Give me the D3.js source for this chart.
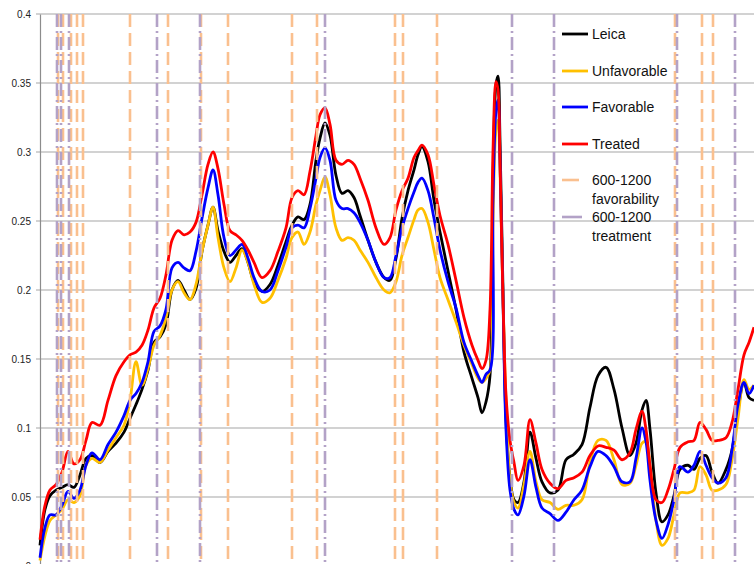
<!DOCTYPE html>
<html>
<head>
<meta charset="utf-8">
<script src="https://cdn.jsdelivr.net/npm/d3@7"></script>
<style>
  body { margin: 0; background: #fff; }
  svg { display: block; font-family: "Liberation Sans", Arial, sans-serif; }
</style>
</head>
<body>
<svg id="chart" width="754" height="564"></svg>
<script>
// wavelength (nm) shared by all four spectra
var wavelength = [600, 602.5, 605, 608, 611, 614, 617, 620, 623, 626, 630, 634, 638, 642, 645, 648, 651, 654, 657, 660,
  663, 666, 669, 672, 675, 678, 681, 684, 686.5, 689, 692, 695, 698, 701, 704, 707, 711, 715, 719, 723,
  726, 729, 732, 735, 738, 740, 742.5, 745, 748, 751, 754, 757, 760, 764, 768, 772, 775, 778, 781, 784,
  787, 789, 791, 794, 797, 800, 804, 808, 812, 816, 819, 821, 823, 825, 826.5, 828, 829, 830, 831.5, 833,
  835, 837, 839, 842, 845, 848, 851, 855, 859, 863, 867, 871, 875, 879, 883, 887, 891, 895, 898, 901,
  903, 905, 908, 911, 914, 917, 920, 924, 927, 930, 933, 936, 939, 943, 946, 949, 952, 954.5, 957];

var leica = [0.015, 0.041, 0.051, 0.055, 0.057, 0.059, 0.057, 0.066, 0.078, 0.080, 0.075, 0.083, 0.089, 0.097, 0.107, 0.117, 0.128, 0.142, 0.162, 0.166,
  0.175, 0.200, 0.207, 0.200, 0.193, 0.201, 0.228, 0.247, 0.260, 0.243, 0.228, 0.220, 0.225, 0.230, 0.220, 0.206, 0.199, 0.204, 0.218, 0.235,
  0.247, 0.253, 0.251, 0.262, 0.294, 0.310, 0.321, 0.312, 0.283, 0.270, 0.272, 0.267, 0.254, 0.236, 0.220, 0.209, 0.207, 0.223, 0.252, 0.272,
  0.287, 0.298, 0.304, 0.293, 0.265, 0.242, 0.214, 0.186, 0.155, 0.136, 0.122, 0.111, 0.119, 0.138, 0.280, 0.349, 0.355, 0.309, 0.200, 0.106,
  0.064, 0.048, 0.046, 0.061, 0.097, 0.078, 0.061, 0.053, 0.055, 0.077, 0.081, 0.088, 0.115, 0.138, 0.144, 0.128, 0.100, 0.080, 0.089, 0.113,
  0.120, 0.099, 0.053, 0.032, 0.037, 0.051, 0.070, 0.073, 0.070, 0.078, 0.080, 0.068, 0.060, 0.070, 0.084, 0.113, 0.133, 0.122, 0.120];

var unfavorable = [0.004, 0.022, 0.033, 0.037, 0.041, 0.048, 0.046, 0.051, 0.073, 0.078, 0.075, 0.084, 0.093, 0.102, 0.120, 0.148, 0.131, 0.143, 0.160, 0.167,
  0.180, 0.200, 0.206, 0.198, 0.193, 0.204, 0.228, 0.247, 0.260, 0.238, 0.216, 0.206, 0.216, 0.229, 0.220, 0.204, 0.191, 0.194, 0.207, 0.223,
  0.238, 0.242, 0.233, 0.242, 0.262, 0.272, 0.282, 0.269, 0.245, 0.236, 0.238, 0.236, 0.229, 0.220, 0.209, 0.200, 0.198, 0.206, 0.225, 0.238,
  0.251, 0.258, 0.259, 0.249, 0.229, 0.209, 0.193, 0.177, 0.160, 0.146, 0.136, 0.133, 0.136, 0.142, 0.251, 0.316, 0.323, 0.287, 0.193, 0.120,
  0.062, 0.046, 0.042, 0.059, 0.083, 0.061, 0.048, 0.046, 0.041, 0.044, 0.044, 0.048, 0.075, 0.091, 0.091, 0.077, 0.059, 0.060, 0.073, 0.089,
  0.090, 0.072, 0.033, 0.015, 0.020, 0.037, 0.053, 0.053, 0.055, 0.072, 0.066, 0.055, 0.055, 0.059, 0.077, 0.107, 0.135, 0.128, 0.131];

var favorable = [0.006, 0.028, 0.037, 0.037, 0.044, 0.054, 0.049, 0.055, 0.073, 0.082, 0.077, 0.088, 0.097, 0.109, 0.120, 0.125, 0.133, 0.148, 0.170, 0.174,
  0.186, 0.216, 0.220, 0.216, 0.214, 0.228, 0.252, 0.274, 0.287, 0.269, 0.238, 0.225, 0.229, 0.233, 0.223, 0.209, 0.199, 0.200, 0.214, 0.231,
  0.245, 0.247, 0.245, 0.259, 0.281, 0.296, 0.303, 0.294, 0.265, 0.259, 0.259, 0.256, 0.249, 0.236, 0.220, 0.209, 0.209, 0.225, 0.245, 0.259,
  0.271, 0.278, 0.281, 0.272, 0.252, 0.229, 0.206, 0.187, 0.162, 0.148, 0.138, 0.133, 0.139, 0.142, 0.265, 0.330, 0.338, 0.294, 0.193, 0.099,
  0.055, 0.041, 0.037, 0.051, 0.077, 0.057, 0.042, 0.038, 0.033, 0.039, 0.048, 0.055, 0.072, 0.083, 0.080, 0.072, 0.061, 0.061, 0.078, 0.100,
  0.090, 0.062, 0.033, 0.020, 0.030, 0.048, 0.072, 0.068, 0.073, 0.083, 0.073, 0.064, 0.060, 0.064, 0.084, 0.117, 0.133, 0.125, 0.131];

var treated = [0.019, 0.044, 0.055, 0.059, 0.068, 0.083, 0.074, 0.077, 0.091, 0.104, 0.102, 0.120, 0.138, 0.148, 0.153, 0.155, 0.160, 0.171, 0.187, 0.194,
  0.211, 0.236, 0.243, 0.240, 0.242, 0.249, 0.269, 0.291, 0.300, 0.288, 0.262, 0.243, 0.240, 0.236, 0.229, 0.220, 0.209, 0.214, 0.228, 0.245,
  0.267, 0.272, 0.269, 0.286, 0.312, 0.327, 0.332, 0.320, 0.294, 0.291, 0.294, 0.291, 0.281, 0.265, 0.245, 0.233, 0.238, 0.258, 0.272, 0.281,
  0.296, 0.301, 0.305, 0.298, 0.276, 0.254, 0.233, 0.207, 0.180, 0.160, 0.149, 0.143, 0.149, 0.186, 0.301, 0.351, 0.345, 0.294, 0.193, 0.124,
  0.091, 0.075, 0.062, 0.073, 0.106, 0.089, 0.070, 0.060, 0.056, 0.062, 0.064, 0.068, 0.080, 0.087, 0.086, 0.084, 0.077, 0.082, 0.099, 0.112,
  0.099, 0.073, 0.048, 0.046, 0.055, 0.070, 0.086, 0.090, 0.091, 0.104, 0.099, 0.091, 0.091, 0.093, 0.104, 0.128, 0.153, 0.162, 0.173];

// band markers (nm)
var favorabilityBands = [609, 611.5, 615.5, 618.5, 621.5, 645, 664, 680.5, 694, 726, 738.5, 777.5, 781.5, 798.5, 917.5, 931, 936.5];
var treatmentBands = [608.5, 610.5, 614.5, 658.5, 680, 742.5, 836, 857, 918.5, 947.5];

var yTicks = [0, 0.05, 0.1, 0.15, 0.2, 0.25, 0.3, 0.35, 0.4];
var yTickLabels = ["0", "0.05", "0.1", "0.15", "0.2", "0.25", "0.3", "0.35", "0.4"];

var seriesNames = ["Leica", "Unfavorable", "Favorable", "Treated"];
var seriesColors = ["#000000", "#ffc000", "#0000ff", "#ff0000"];

var svg = d3.select("#chart");

var x = d3.scaleLinear().domain([600, 957]).range([40, 754]);
var y = d3.scaleLinear().domain([0, 0.4]).range([566, 14]);

// grid lines
svg.append("g")
  .selectAll("line")
  .data(yTicks)
  .enter()
  .append("line")
  .attr("x1", 36)
  .attr("x2", 754)
  .attr("y1", function (d) { return y(d); })
  .attr("y2", function (d) { return y(d); })
  .attr("stroke", "#a6a6a6")
  .attr("stroke-width", 1.2);

// y axis
var yAxis = d3.axisLeft(y)
  .tickValues(yTicks)
  .tickSize(0)
  .tickPadding(9)
  .tickFormat(function (d, i) { return yTickLabels[i]; });

var ax = svg.append("g").attr("transform", "translate(40,0)").call(yAxis);
ax.select(".domain").attr("stroke", "#8c8c8c").attr("stroke-width", 1.2);
ax.selectAll("text").attr("font-size", 10).attr("fill", "#222");

// spectra
var seriesData = [leica, unfavorable, favorable, treated];

var line = d3.line()
  .x(function (d) { return x(d[0]); })
  .y(function (d) { return y(d[1]); })
  .curve(d3.curveCatmullRom.alpha(0.5));

svg.append("g")
  .selectAll("path")
  .data(seriesData)
  .enter()
  .append("path")
  .attr("d", function (vals) {
    return line(wavelength.map(function (w, i) { return [w, vals[i]]; }));
  })
  .attr("fill", "none")
  .attr("stroke", function (d, i) { return seriesColors[i]; })
  .attr("stroke-width", 2.8)
  .attr("stroke-linejoin", "round");

// band markers on top
function bands(list, color, dash) {
  svg.append("g")
    .selectAll("line")
    .data(list)
    .enter()
    .append("line")
    .attr("x1", function (d) { return x(d); })
    .attr("x2", function (d) { return x(d); })
    .attr("y1", y(0.4))
    .attr("y2", y(0))
    .attr("stroke", color)
    .attr("stroke-width", 2.6)
    .attr("stroke-dasharray", dash);
}
bands(favorabilityBands, "#fac08f", "13,6");
bands(treatmentBands, "#b3a2c7", "13,4,2,4");

// legend
var legendRows = [
  { name: ["Leica"], color: seriesColors[0], dash: null, yy: 34 },
  { name: ["Unfavorable"], color: seriesColors[1], dash: null, yy: 71 },
  { name: ["Favorable"], color: seriesColors[2], dash: null, yy: 107 },
  { name: ["Treated"], color: seriesColors[3], dash: null, yy: 144 },
  { name: ["600-1200", "favorability"], color: "#fac08f", dash: "17,10", yy: 180 },
  { name: ["600-1200", "treatment"], color: "#b3a2c7", dash: "20,10", yy: 217 }
];

var lg = svg.append("g")
  .selectAll("g")
  .data(legendRows)
  .enter()
  .append("g")
  .attr("transform", function (d) { return "translate(0," + d.yy + ")"; });

lg.append("line")
  .attr("x1", 562)
  .attr("x2", 588)
  .attr("stroke", function (d) { return d.color; })
  .attr("stroke-width", function (d) { return d.dash ? 2.6 : 2.8; })
  .attr("stroke-dasharray", function (d) { return d.dash; });

lg.append("text")
  .attr("x", 592)
  .attr("y", 5)
  .attr("font-size", 14)
  .attr("fill", "#111")
  .selectAll("tspan")
  .data(function (d) { return d.name; })
  .enter()
  .append("tspan")
  .attr("x", 592)
  .attr("dy", function (d, i) { return i === 0 ? 0 : 18.5; })
  .text(function (d) { return d; });
</script>
</body>
</html>
